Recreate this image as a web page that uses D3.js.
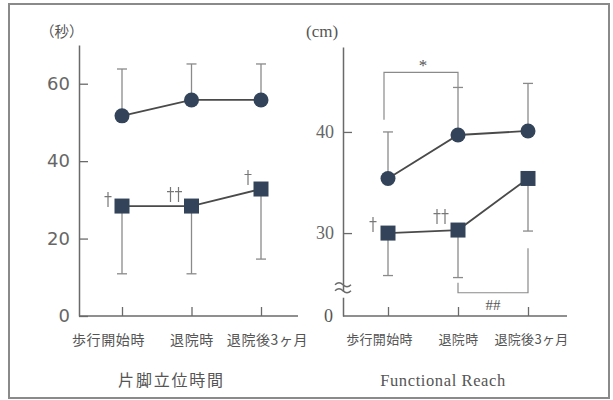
<!DOCTYPE html>
<html>
<head>
<meta charset="utf-8">
<title>片脚立位時間 / Functional Reach</title>
<script src="https://d3js.org/d3.v7.min.js"></script>
<style>
  body { margin: 0; background: #fff; }
  .jp { font-family: "Noto Sans CJK JP", sans-serif; fill: #555; }
  .serif { font-family: "Liberation Serif", serif; fill: #555; }
</style>
</head>
<body>
<div id="chart"></div>
<script>
// data
var categories = ['歩行開始時', '退院時', '退院後3ヶ月'];

// 片脚立位時間 (秒)
var balanceCircle = [51.7, 55.8, 55.8];
var balanceCircleSD = [12.1, 9.3, 9.3];      // drawn upward
var balanceSquare = [28.4, 28.4, 32.8];
var balanceSquareSD = [17.5, 17.5, 18.1];    // drawn downward
var balanceTicks = [0, 20, 40, 60];

// Functional Reach (cm)
var reachCircle = [35.4, 39.7, 40.1];
var reachCircleSD = [4.6, 4.7, 4.7];
var reachSquare = [30.0, 30.3, 35.4];
var reachSquareSD = [4.2, 4.7, 5.2];
var reachTicks = [30, 40];

var width = 613, height = 400;
var svg = d3.select('#chart').append('svg')
  .attr('width', width).attr('height', height);

svg.append('rect')
  .attr('x', 9).attr('y', 4).attr('width', 600).attr('height', 394)
  .attr('fill', 'none').attr('stroke', '#8a8a8a').attr('stroke-width', 2);

var markColor = '#33445a';
var lineColor = '#4a4a4a';
var errColor = '#8a8a8a';
var axisColor = '#6a6a6a';

// dagger mark(s) drawn as strokes: n = 1 or 2, (cx, bottom)
function dagger(g, cx, bottom, n) {
  for (var k = 0; k < n; k++) {
    var xx = cx + (k - (n - 1) / 2) * 8;
    g.append('path')
      .attr('d', 'M' + xx + ',' + bottom + 'V' + (bottom - 15) +
        'M' + (xx - 3.5) + ',' + (bottom - 10.5) + 'H' + (xx + 3.5))
      .attr('fill', 'none').attr('stroke', '#777').attr('stroke-width', 1.2);
  }
}

function panel(opt) {
  var g = svg.append('g');
  var x = d3.scalePoint().domain(categories).range(opt.xr);
  var y = d3.scaleLinear().domain(opt.yd).range([316, opt.top]);

  // y axis
  var ya = g.append('g').attr('transform', 'translate(' + opt.ax + ',0)')
    .call(d3.axisLeft(y).tickValues(opt.ticks).tickSizeInner(-9).tickSizeOuter(0).tickPadding(9));
  ya.select('.domain').attr('stroke', axisColor).attr('stroke-width', 1.5);
  ya.selectAll('.tick line').attr('stroke', axisColor).attr('stroke-width', 1.3);
  ya.selectAll('.tick text').attr('font-family', opt.numFont).attr('font-size', 18).attr('fill', '#666');

  // x axis
  g.append('line').attr('x1', opt.ax).attr('x2', opt.xend)
    .attr('y1', 316).attr('y2', 316).attr('stroke', axisColor).attr('stroke-width', 1.5);
  var xa = g.append('g').attr('transform', 'translate(0,316)')
    .call(d3.axisBottom(x).tickSizeInner(-9).tickSizeOuter(0).tickPadding(19));
  xa.select('.domain').remove();
  xa.selectAll('.tick line').attr('stroke', axisColor).attr('stroke-width', 1.3);
  xa.selectAll('.tick text')
    .attr('class', 'jp').attr('font-size', opt.catSize).attr('fill', '#555')
    .attr('letter-spacing', opt.catSpacing)
    .attr('dx', function(d, i) { return opt.labelShift[i]; });

  // error bars
  function errs(vals, sds, dir) {
    var eg = g.append('g').attr('stroke', errColor).attr('stroke-width', 1.3);
    eg.selectAll('line.v').data(vals).enter().append('line')
      .attr('x1', function(d, i) { return x(categories[i]); })
      .attr('x2', function(d, i) { return x(categories[i]); })
      .attr('y1', function(d) { return y(d); })
      .attr('y2', function(d, i) { return y(d + dir * sds[i]); });
    eg.selectAll('line.c').data(vals).enter().append('line')
      .attr('x1', function(d, i) { return x(categories[i]) - 5; })
      .attr('x2', function(d, i) { return x(categories[i]) + 5; })
      .attr('y1', function(d, i) { return y(d + dir * sds[i]); })
      .attr('y2', function(d, i) { return y(d + dir * sds[i]); });
  }
  errs(opt.circle, opt.circleSD, 1);
  errs(opt.square, opt.squareSD, -1);

  var line = d3.line()
    .x(function(d, i) { return x(categories[i]); })
    .y(function(d) { return y(d); });
  [opt.circle, opt.square].forEach(function(s) {
    g.append('path').datum(s).attr('d', line)
      .attr('fill', 'none').attr('stroke', lineColor).attr('stroke-width', 1.8);
  });

  g.selectAll('circle.m').data(opt.circle).enter().append('circle')
    .attr('cx', function(d, i) { return x(categories[i]); })
    .attr('cy', function(d) { return y(d); })
    .attr('r', 7.5).attr('fill', markColor);
  g.selectAll('rect.m').data(opt.square).enter().append('rect')
    .attr('x', function(d, i) { return x(categories[i]) - 7.5; })
    .attr('y', function(d) { return y(d) - 7.5; })
    .attr('width', 15).attr('height', 15).attr('fill', markColor);

  // daggers next to squares
  opt.daggers.forEach(function(dg) {
    dagger(g, x(categories[dg.i]) + dg.dx, y(opt.square[dg.i]) + dg.dy, dg.n);
  });

  // unit
  g.append('text').attr('class', opt.unitClass)
    .attr('x', opt.unitX).attr('y', 37).attr('font-size', opt.unitSize)
    .text(opt.unit);

  // title
  g.append('text').attr('class', opt.titleClass)
    .attr('x', (opt.xr[0] + opt.xr[1]) / 2 + opt.titleShift).attr('y', 386)
    .attr('text-anchor', 'middle').attr('font-size', opt.titleSize)
    .attr('letter-spacing', opt.titleSpacing)
    .text(opt.title);

  return { g: g, x: x, y: y };
}

panel({
  xr: [122, 261], ax: 79, xend: 298, top: 45, yd: [0, 70],
  ticks: balanceTicks, numFont: 'DejaVu Sans, sans-serif', catSize: 14, catSpacing: 0.6,
  labelShift: [-14, 0, 6],
  circle: balanceCircle, circleSD: balanceCircleSD,
  square: balanceSquare, squareSD: balanceSquareSD,
  daggers: [{ i: 0, dx: -14, dy: 1, n: 1 }, { i: 1, dx: -17, dy: -4, n: 2 }, { i: 2, dx: -13, dy: -4, n: 1 }],
  unit: '（秒）', unitX: 40, unitSize: 14.5, unitClass: 'jp',
  title: '片脚立位時間', titleClass: 'jp', titleSize: 16, titleSpacing: 1.8, titleShift: -20
});

var right = panel({
  xr: [388, 528], ax: 343, xend: 567, top: 47, yd: [21.8, 48.4],
  ticks: reachTicks, numFont: 'Liberation Serif, serif', catSize: 13, catSpacing: 0.3,
  labelShift: [-9, 0, 3],
  circle: reachCircle, circleSD: reachCircleSD,
  square: reachSquare, squareSD: reachSquareSD,
  daggers: [{ i: 0, dx: -15, dy: -1, n: 1 }, { i: 1, dx: -17, dy: -6, n: 2 }],
  unit: '(cm)', unitX: 306, unitSize: 17, unitClass: 'serif',
  title: 'Functional Reach', titleClass: 'serif', titleSize: 16.5, titleSpacing: 0.6, titleShift: -15
});

// right panel extras: zero label, axis break, significance brackets
var rg = right.g, rx = right.x, ry = right.y;
rg.append('text').attr('class', 'serif').attr('x', 333).attr('y', ry(21.8) + 6)
  .attr('text-anchor', 'end').attr('font-size', 18).attr('fill', '#666').text('0');

rg.append('rect').attr('x', 338).attr('y', ry(24.2)).attr('width', 10).attr('height', 6).attr('fill', '#fff');
[0, 6].forEach(function(off) {
  rg.append('path')
    .attr('d', 'M335,' + (ry(24.9) + off) + ' q4,-4 8,0 t8,0')
    .attr('fill', 'none').attr('stroke', axisColor).attr('stroke-width', 1.4);
});

function bracket(i0, i1, yb, y0, y1, xOff) {
  var p = d3.path();
  p.moveTo(rx(categories[i0]) + xOff, ry(y0));
  p.lineTo(rx(categories[i0]) + xOff, ry(yb));
  p.lineTo(rx(categories[i1]), ry(yb));
  p.lineTo(rx(categories[i1]), ry(y1));
  rg.append('path').attr('d', p.toString()).attr('fill', 'none')
    .attr('stroke', '#8a8a8a').attr('stroke-width', 1.2);
}
bracket(0, 1, 45.9, 41.2, 44.4, -4);
rg.append('text').attr('class', 'serif').attr('x', (rx(categories[0]) + rx(categories[1])) / 2)
  .attr('y', ry(45.9) - 1).attr('text-anchor', 'middle').attr('font-size', 17).text('*');

bracket(1, 2, 24.1, 25.1, 28.5, 0);
rg.append('text').attr('class', 'serif').attr('x', (rx(categories[1]) + rx(categories[2])) / 2)
  .attr('y', ry(24.1) + 17).attr('text-anchor', 'middle').attr('font-size', 15).text('##');
</script>
</body>
</html>
